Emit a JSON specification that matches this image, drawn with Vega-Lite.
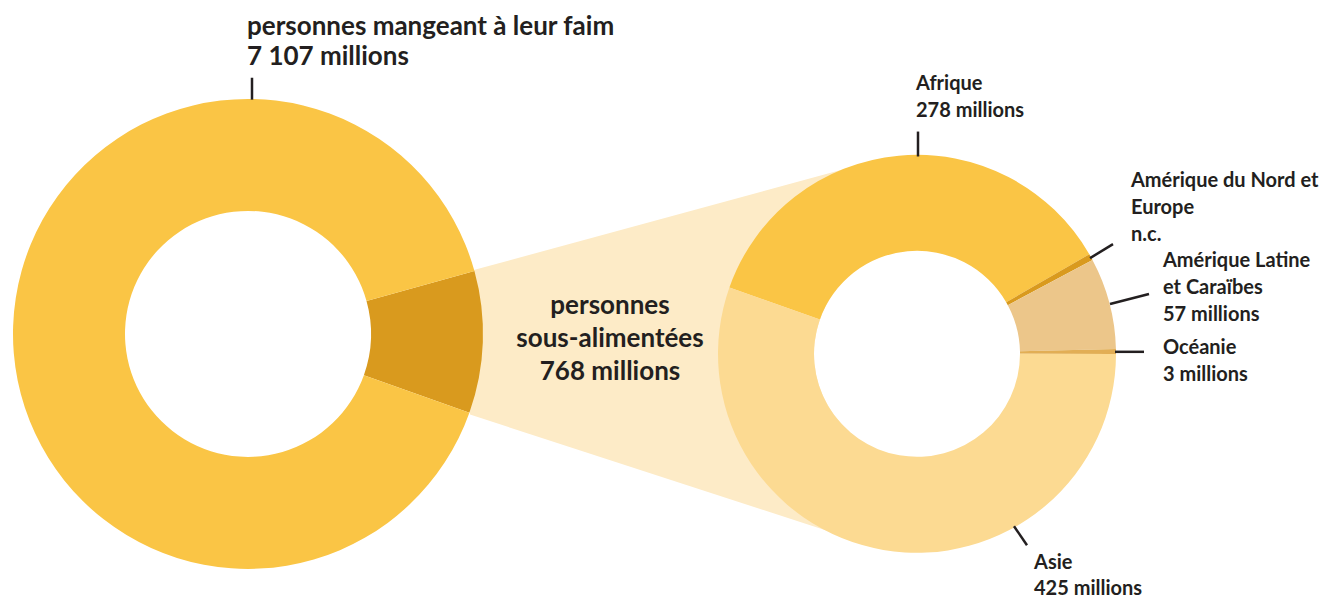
{
  "$schema": "https://vega.github.io/schema/vega-lite/v6.json",
  "width": 1335,
  "height": 599,
  "padding": 0,
  "autosize": {"type": "fit", "contains": "padding"},
  "background": "white",
  "config": {
    "view": {"stroke": null},
    "text": {"font": "Lato", "fontWeight": "bold", "color": "#231f20", "baseline": "alphabetic", "align": "left"},
    "rule": {"color": "#231f20", "strokeWidth": 2.5}
  },
  "data": {"values": [{}]},
  "layer": [
    {
      "data": {"values": [{"px": 470, "top": 272, "bottom": 416}, {"px": 850, "top": 168, "bottom": 540}]},
      "mark": {"type": "area", "color": "#FDEBC7", "interpolate": "linear"},
      "encoding": {
        "x": {"field": "px", "type": "quantitative", "scale": {"domain": [0, 1335], "nice": false, "zero": false}, "axis": null},
        "y": {"field": "top", "type": "quantitative", "scale": {"domain": [0, 599], "reverse": true, "nice": false, "zero": false}, "axis": null},
        "y2": {"field": "bottom"}
      }
    },
    {
      "data": {"values": [
        {"groupe": "personnes sous-alimentées", "millions": 768, "k": 1},
        {"groupe": "personnes mangeant à leur faim", "millions": 7107, "k": 2}
      ]},
      "mark": {"type": "arc", "outerRadius": 235, "innerRadius": 123},
      "encoding": {
        "x": {"datum": 248, "type": "quantitative"},
        "y": {"datum": 335, "type": "quantitative"},
        "theta": {"field": "millions", "type": "quantitative", "stack": true, "scale": {"range": [1.3, 7.5832]}},
        "order": {"field": "k", "type": "quantitative"},
        "color": {"field": "groupe", "type": "nominal", "legend": null,
          "scale": {"domain": ["personnes sous-alimentées", "personnes mangeant à leur faim"], "range": ["#D99A1E", "#FAC545"]}}
      }
    },
    {
      "mark": {"type": "arc", "outerRadius": 103, "innerRadius": 0, "theta": 0, "theta2": 6.2832, "color": "white"},
      "encoding": {
        "x": {"datum": 917, "type": "quantitative"},
        "y": {"datum": 355, "type": "quantitative"}
      }
    },
    {
      "data": {"values": [
        {"region": "Afrique", "millions": 278, "k": 1},
        {"region": "Amérique du Nord et Europe", "millions": 4, "k": 2},
        {"region": "Amérique Latine et Caraïbes", "millions": 57, "k": 3},
        {"region": "Océanie", "millions": 3, "k": 4},
        {"region": "Asie", "millions": 425, "k": 5}
      ]},
      "mark": {"type": "arc", "outerRadius": 199, "innerRadius": 103},
      "encoding": {
        "x": {"datum": 917, "type": "quantitative"},
        "y": {"datum": 355, "type": "quantitative"},
        "theta": {"field": "millions", "type": "quantitative", "stack": true, "scale": {"range": [-1.2305, 5.0527]}},
        "order": {"field": "k", "type": "quantitative"},
        "color": {"field": "region", "type": "nominal", "legend": null,
          "scale": {"domain": ["Afrique", "Amérique du Nord et Europe", "Amérique Latine et Caraïbes", "Océanie", "Asie"],
                    "range": ["#FAC545", "#D99A1E", "#ECC68A", "#E2AE55", "#FCDA92"]}}
      }
    },
    {"mark": "rule", "encoding": {"x": {"datum": 252, "type": "quantitative"}, "y": {"datum": 78, "type": "quantitative"}, "x2": {"datum": 252}, "y2": {"datum": 100}}},
    {"mark": "rule", "encoding": {"x": {"datum": 918, "type": "quantitative"}, "y": {"datum": 132, "type": "quantitative"}, "x2": {"datum": 918}, "y2": {"datum": 157}}},
    {"mark": "rule", "encoding": {"x": {"datum": 1090, "type": "quantitative"}, "y": {"datum": 259, "type": "quantitative"}, "x2": {"datum": 1113}, "y2": {"datum": 245}}},
    {"mark": "rule", "encoding": {"x": {"datum": 1110, "type": "quantitative"}, "y": {"datum": 305, "type": "quantitative"}, "x2": {"datum": 1149}, "y2": {"datum": 295}}},
    {"mark": "rule", "encoding": {"x": {"datum": 1115, "type": "quantitative"}, "y": {"datum": 353, "type": "quantitative"}, "x2": {"datum": 1144}, "y2": {"datum": 353}}},
    {"mark": "rule", "encoding": {"x": {"datum": 1014, "type": "quantitative"}, "y": {"datum": 528, "type": "quantitative"}, "x2": {"datum": 1027}, "y2": {"datum": 547}}},
    {
      "data": {"values": [{"t": "personnes mangeant à leur faim\n7 107 millions"}]},
      "mark": {"type": "text", "fontSize": 26, "lineBreak": "\n", "lineHeight": 30},
      "encoding": {"x": {"datum": 247, "type": "quantitative"}, "y": {"datum": 35, "type": "quantitative"}, "text": {"field": "t"}}
    },
    {
      "data": {"values": [{"t": "personnes\nsous-alimentées\n768 millions"}]},
      "mark": {"type": "text", "fontSize": 26, "lineBreak": "\n", "lineHeight": 33, "align": "center"},
      "encoding": {"x": {"datum": 610, "type": "quantitative"}, "y": {"datum": 315, "type": "quantitative"}, "text": {"field": "t"}}
    },
    {
      "data": {"values": [{"t": "Afrique\n278 millions"}]},
      "mark": {"type": "text", "fontSize": 20, "lineBreak": "\n", "lineHeight": 27},
      "encoding": {"x": {"datum": 916, "type": "quantitative"}, "y": {"datum": 90, "type": "quantitative"}, "text": {"field": "t"}}
    },
    {
      "data": {"values": [{"t": "Amérique du Nord et\nEurope\nn.c."}]},
      "mark": {"type": "text", "fontSize": 20, "lineBreak": "\n", "lineHeight": 27},
      "encoding": {"x": {"datum": 1131, "type": "quantitative"}, "y": {"datum": 188, "type": "quantitative"}, "text": {"field": "t"}}
    },
    {
      "data": {"values": [{"t": "Amérique Latine\net Caraïbes\n57 millions"}]},
      "mark": {"type": "text", "fontSize": 20, "lineBreak": "\n", "lineHeight": 27},
      "encoding": {"x": {"datum": 1163, "type": "quantitative"}, "y": {"datum": 268, "type": "quantitative"}, "text": {"field": "t"}}
    },
    {
      "data": {"values": [{"t": "Océanie\n3 millions"}]},
      "mark": {"type": "text", "fontSize": 20, "lineBreak": "\n", "lineHeight": 27},
      "encoding": {"x": {"datum": 1163, "type": "quantitative"}, "y": {"datum": 355, "type": "quantitative"}, "text": {"field": "t"}}
    },
    {
      "data": {"values": [{"t": "Asie\n425 millions"}]},
      "mark": {"type": "text", "fontSize": 20, "lineBreak": "\n", "lineHeight": 26},
      "encoding": {"x": {"datum": 1034, "type": "quantitative"}, "y": {"datum": 571, "type": "quantitative"}, "text": {"field": "t"}}
    }
  ],
  "resolve": {"scale": {"theta": "independent", "color": "independent"}}
}
